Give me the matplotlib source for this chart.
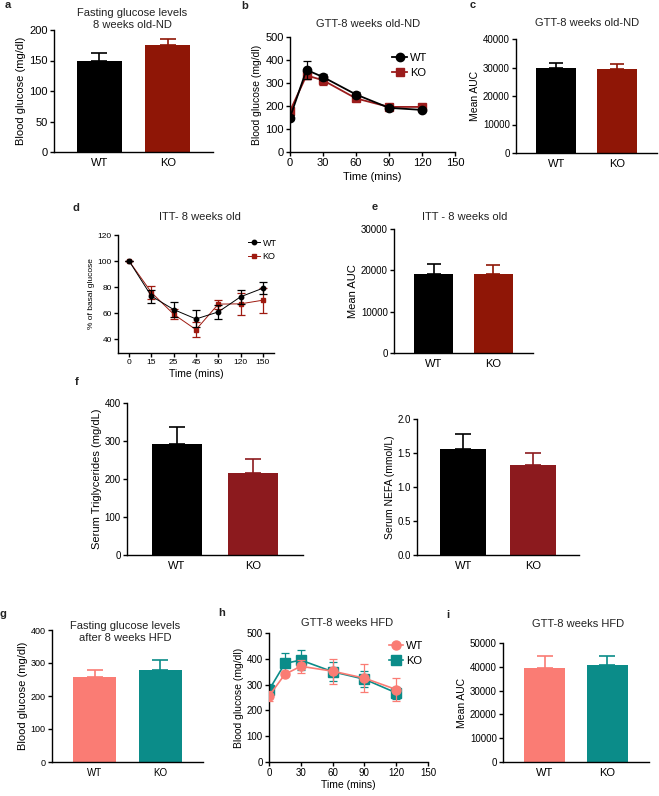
import numpy as np
import matplotlib
matplotlib.use("Agg")
import matplotlib.pyplot as plt
from matplotlib.lines import Line2D

plt.rcParams['font.family'] = ['Liberation Sans', 'DejaVu Sans']

# ---- data ----
groups = ["WT", "KO"]

# a: fasting glucose, 8 weeks old ND
fast_nd = [150, 176]
fast_nd_err = [13, 10]

# b: GTT 8 weeks old ND
gtt_t = [0, 15, 30, 60, 90, 120]
gtt_nd_wt = [150, 357, 326, 250, 192, 183]
gtt_nd_wt_err = [10, 38, 15, 12, 6, 6]
gtt_nd_ko = [178, 333, 312, 233, 196, 196]
gtt_nd_ko_err = [10, 15, 20, 10, 6, 6]

# c: GTT AUC ND
auc_nd = [30000, 29500]
auc_nd_err = [1500, 1700]

# d: ITT 8 weeks old
itt_labels = ["0", "15", "25", "45", "90", "120", "150"]
itt_wt = [100, 73.1, 62.8, 55.6, 61.0, 72.6, 79.2]
itt_wt_err = [0, 5, 6, 6.5, 5.5, 5.5, 4.5]
itt_ko = [100, 75.9, 59.2, 47.4, 67.0, 67.2, 70.0]
itt_ko_err = [0, 5, 4, 6, 3.5, 8.5, 9.5]

# e: ITT AUC
itt_auc = [19000, 19200]
itt_auc_err = [2500, 2000]

# f: serum lipids
tg = [293, 216]
tg_err = [45, 37]
nefa = [1.56, 1.33]
nefa_err = [0.22, 0.17]

# g: fasting glucose after HFD
fast_hfd = [257, 280]
fast_hfd_err = [23, 28]

# h: GTT 8 weeks HFD
gtt_hfd_wt = [256, 340, 371, 352, 325, 281]
gtt_hfd_wt_err = [20, 8, 25, 48, 55, 45]
gtt_hfd_ko = [279, 382, 395, 350, 321, 268]
gtt_hfd_ko_err = [22, 40, 38, 36, 32, 22]

# i: GTT AUC HFD
auc_hfd = [39600, 40600]
auc_hfd_err = [4800, 3800]

BLACK = "#000000"
DRED = "#8F1606"
FRED = "#8C1A1E"
LRED = "#9B1C1C"
SALMON = "#FA7C74"
TEAL = "#0B8C89"

W, H = 659, 796
fig = plt.figure(figsize=(W / 100, H / 100), dpi=100)


def axes_px(left, top, right, bottom):
    return fig.add_axes([left / W, 1 - bottom / H, (right - left) / W, (bottom - top) / H])


def txt(x, y, s, size=8, weight="normal", ha="center", color="#222222"):
    fig.text(x / W, 1 - y / H, s, fontsize=size, fontweight=weight, ha=ha, va="center",
             color=color, linespacing=1.15)


def style(ax, tsize):
    ax.spines["top"].set_visible(False)
    ax.spines["right"].set_visible(False)
    ax.spines["left"].set_linewidth(1.0)
    ax.spines["bottom"].set_linewidth(1.0)
    ax.tick_params(labelsize=tsize, length=3, width=1.0, direction="out", pad=1.5)


def bar_panel(rect, vals, errs, colors, ylim, yticks, ylabel, tsize=7, lsize=7.5,
              xsize=8, capsize=5, fmt=None):
    ax = axes_px(*rect)
    x = np.arange(len(groups))
    ax.bar(x, vals, width=0.66, color=colors, zorder=2)
    for xi, v, e, c in zip(x, vals, errs, colors):
        ax.errorbar([xi], [v], yerr=[[0], [e]], fmt="none", ecolor=c, capsize=capsize,
                    elinewidth=1.2, capthick=1.2, zorder=1)
    ax.set_xlim(-0.66, 1.66)
    ax.set_ylim(*ylim)
    ax.set_yticks(yticks)
    if fmt:
        ax.set_yticklabels([fmt.format(t) for t in yticks])
    ax.set_xticks(x)
    ax.set_xticklabels(groups, fontsize=xsize)
    style(ax, tsize)
    ax.tick_params(axis="x", length=0, pad=4, labelsize=xsize)
    ax.set_ylabel(ylabel, fontsize=lsize, labelpad=2)
    return ax


def line_panel(rect, xs, wt, wt_err, ko, ko_err, cw, ck, mw, mk, ms, lw, tsize, lsize,
               anchor):
    ax = axes_px(*rect)
    ax.errorbar(xs, ko, yerr=ko_err, color=ck, marker=mk, ms=ms, lw=lw, capsize=3,
                elinewidth=0.9, capthick=0.9, zorder=2)
    ax.errorbar(xs, wt, yerr=wt_err, color=cw, marker=mw, ms=ms, lw=lw, capsize=3,
                elinewidth=0.9, capthick=0.9, zorder=3)
    style(ax, tsize)
    handles = [Line2D([], [], color=cw, marker=mw, ms=ms, lw=lw),
               Line2D([], [], color=ck, marker=mk, ms=ms, lw=lw)]
    ax.legend(handles, groups, loc="upper right", bbox_to_anchor=anchor, frameon=False,
              fontsize=lsize, handlelength=1.3, handletextpad=0.3, borderaxespad=0.0,
              labelspacing=0.45)
    return ax


# a
bar_panel((54, 30, 213, 152), fast_nd, fast_nd_err, [BLACK, DRED], (0, 200),
          [0, 50, 100, 150, 200], "Blood glucose (mg/dl)", tsize=8, lsize=8, capsize=6)
txt(132, 19, "Fasting glucose levels\n8 weeks old-ND", 8)
txt(8, 5, "a", 8, "bold")

# b
ax = line_panel((290, 37, 455, 152), gtt_t, gtt_nd_wt, gtt_nd_wt_err, gtt_nd_ko,
                gtt_nd_ko_err, BLACK, LRED, "o", "s", 6, 1.3, 8, 8, (0.86, 0.9))
ax.set_xlim(0, 150)
ax.set_ylim(0, 500)
ax.set_xticks([0, 30, 60, 90, 120, 150])
ax.set_yticks([0, 100, 200, 300, 400, 500])
ax.set_ylabel("Blood glucose (mg/dl)", fontsize=7.5, labelpad=2)
ax.set_xlabel("Time (mins)", fontsize=8, labelpad=3)
txt(368, 24, "GTT-8 weeks old-ND", 8)
txt(245, 6, "b", 8, "bold")

# c
bar_panel((516, 39, 657, 153), auc_nd, auc_nd_err, [BLACK, DRED], (0, 40000),
          [0, 10000, 20000, 30000, 40000], "Mean AUC", tsize=7, capsize=5)
txt(587, 23, "GTT-8 weeks old-ND", 8)
txt(473, 5, "c", 8, "bold")

# d
xs = np.arange(len(itt_labels))
ax = line_panel((118, 235, 274, 353), xs, itt_wt, itt_wt_err, itt_ko, itt_ko_err,
                BLACK, "#9E1A10", "o", "s", 3.2, 0.7, 6, 6.5, (1.04, 1.0))
ax.set_xlim(-0.5, 6.5)
ax.set_ylim(29.5, 120)
ax.set_yticks([40, 60, 80, 100, 120])
ax.set_xticks(xs)
ax.set_xticklabels(itt_labels)
ax.set_ylabel("% of basal glucose", fontsize=6, labelpad=2)
ax.set_xlabel("Time (mins)", fontsize=7.5, labelpad=2)
txt(200, 217, "ITT- 8 weeks old", 8)
txt(76, 208, "d", 8, "bold")

# e
bar_panel((394, 229, 533, 353), itt_auc, itt_auc_err, [BLACK, DRED], (0, 30000),
          [0, 10000, 20000, 30000], "Mean AUC", tsize=7, lsize=8, capsize=5)
txt(465, 217, "ITT - 8 weeks old", 8)
txt(375, 207, "e", 8, "bold")

# f
bar_panel((127, 403, 303, 555), tg, tg_err, [BLACK, FRED], (0, 400),
          [0, 100, 200, 300, 400], "Serum Triglycerides (mg/dL)", tsize=7, lsize=8,
          xsize=8, capsize=6)
bar_panel((417, 419, 579, 555), nefa, nefa_err, [BLACK, FRED], (0, 2.0),
          [0, 0.5, 1.0, 1.5, 2.0], "Serum NEFA (mmol/L)", tsize=7, lsize=7.5,
          xsize=8, capsize=6, fmt="{:.1f}")
txt(77, 382, "f", 8, "bold")

# g
bar_panel((52, 630, 203, 762), fast_hfd, fast_hfd_err, [SALMON, TEAL], (0, 400),
          [0, 100, 200, 300, 400], "Blood glucose (mg/dl)", tsize=6.5, lsize=8,
          xsize=7, capsize=6)
txt(125, 632, "Fasting glucose levels\nafter 8 weeks HFD", 8)
txt(3, 614, "g", 8, "bold")

# h
ax = line_panel((269, 633, 428, 762), gtt_t, gtt_hfd_wt, gtt_hfd_wt_err, gtt_hfd_ko,
                gtt_hfd_ko_err, SALMON, TEAL, "o", "s", 6.5, 1.2, 7, 8, (1.0, 0.97))
ax.set_xlim(0, 150)
ax.set_ylim(0, 500)
ax.set_xticks([0, 30, 60, 90, 120, 150])
ax.set_yticks([0, 100, 200, 300, 400, 500])
ax.set_ylabel("Blood glucose (mg/dl)", fontsize=7.5, labelpad=2)
ax.set_xlabel("Time (mins)", fontsize=7.5, labelpad=1)
txt(347, 623, "GTT-8 weeks HFD", 8)
txt(222, 613, "h", 8, "bold")

# i
bar_panel((503, 643, 649, 762), auc_hfd, auc_hfd_err, [SALMON, TEAL], (0, 50000),
          [0, 10000, 20000, 30000, 40000, 50000], "Mean AUC", tsize=7, lsize=7.5,
          xsize=8, capsize=6)
txt(578, 624, "GTT-8 weeks HFD", 8)
txt(448, 615, "i", 8, "bold")

fig.savefig("out.png", dpi=100)
